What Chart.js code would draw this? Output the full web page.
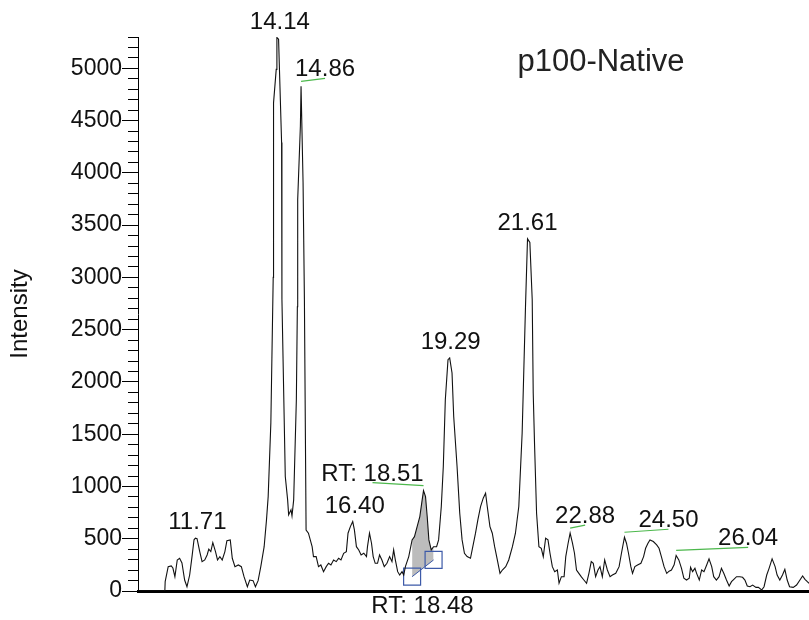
<!DOCTYPE html>
<html>
<head>
<meta charset="utf-8">
<script src="https://cdn.jsdelivr.net/npm/chart.js@4.4.0/dist/chart.umd.min.js"></script>
<style>
  html, body { margin: 0; padding: 0; background: #fff; }
  #wrap { width: 809px; height: 620px; }
</style>
</head>
<body>
<div id="wrap"><canvas id="chromChart" width="809" height="620"></canvas></div>
<script>
// retention time (min) and intensity of the trace
const rt = [
  10.00, 10.80, 10.81, 10.90, 10.99, 11.04, 11.10, 11.17, 11.24, 11.31, 11.39, 11.46,
  11.54, 11.61, 11.67, 11.71, 11.76, 11.84, 11.91, 11.99, 12.06, 12.11, 12.17, 12.23,
  12.31, 12.37, 12.44, 12.51, 12.59, 12.65, 12.75, 12.81, 12.89, 12.99, 13.08, 13.16,
  13.26, 13.33, 13.43, 13.50, 13.58, 13.66, 13.76, 13.83, 13.88, 13.96, 14.03, 14.04,
  14.12, 14.14, 14.19, 14.28, 14.29, 14.39, 14.46, 14.49, 14.56, 14.59, 14.64, 14.72,
  14.75, 14.76, 14.84, 14.86, 14.92, 14.96, 15.01, 15.08, 15.19, 15.23, 15.31, 15.38,
  15.45, 15.53, 15.61, 15.68, 15.75, 15.83, 15.91, 15.98, 16.05, 16.13, 16.21, 16.26,
  16.33, 16.40, 16.45, 16.51, 16.58, 16.65, 16.73, 16.81, 16.84, 16.90, 16.96, 17.01,
  17.07, 17.14, 17.20, 17.27, 17.34, 17.42, 17.50, 17.57, 17.62, 17.67, 17.74, 17.80,
  17.87, 17.92, 17.97, 18.07, 18.17, 18.24, 18.32, 18.40, 18.47, 18.51, 18.57, 18.62,
  18.67, 18.74, 18.81, 18.90, 18.96, 19.04, 19.10, 19.16, 19.24, 19.29, 19.36, 19.41,
  19.51, 19.59, 19.66, 19.73, 19.81, 19.91, 19.96, 20.06, 20.13, 20.21, 20.29, 20.36,
  20.41, 20.49, 20.56, 20.63, 20.71, 20.79, 20.86, 20.96, 21.05, 21.16, 21.25, 21.35,
  21.45, 21.55, 21.61, 21.68, 21.75, 21.78, 21.82, 21.88, 21.95, 22.02, 22.08, 22.15,
  22.22, 22.28, 22.35, 22.42, 22.50, 22.55, 22.62, 22.70, 22.75, 22.82, 22.88, 22.95,
  23.01, 23.07, 23.14, 23.21, 23.29, 23.37, 23.44, 23.51, 23.57, 23.64, 23.71, 23.77,
  23.84, 23.91, 23.99, 24.07, 24.14, 24.24, 24.34, 24.41, 24.50, 24.56, 24.62, 24.69,
  24.74, 24.81, 24.89, 24.99, 25.07, 25.13, 25.20, 25.26, 25.36, 25.46, 25.53, 25.60,
  25.68, 25.76, 25.83, 25.90, 25.98, 26.04, 26.12, 26.20, 26.27, 26.35, 26.43, 26.47,
  26.53, 26.60, 26.65, 26.73, 26.80, 26.87, 26.95, 27.02, 27.10, 27.16, 27.24, 27.32,
  27.39, 27.46, 27.54, 27.62, 27.69, 27.76, 27.84, 27.94, 28.02, 28.09, 28.16, 28.24,
  28.32, 28.42, 28.49, 28.59, 28.66, 28.74, 28.81, 28.90, 28.99, 29.05, 29.13, 29.21,
  29.28, 29.35, 29.42, 29.53, 29.63, 29.73, 29.81, 29.88, 29.95, 30.00
];
const intensity = [
  0, 0, 90, 233, 240, 220, 137, 297, 313, 268, 105, 41,
  153, 329, 490, 505, 500, 377, 281, 297, 345, 400, 377, 463,
  377, 297, 329, 297, 377, 482, 489, 313, 233, 249, 233, 137,
  41, 105, 99, 41, 99, 233, 424, 680, 903, 1610, 3000, 4670,
  4990, 5295, 5279, 4290, 2790, 1095, 872, 728, 776, 718, 872, 1830,
  2720, 3746, 4448, 4828, 3909, 2788, 584, 553, 424, 329, 329, 233,
  249, 185, 233, 265, 249, 297, 281, 313, 297, 361, 377, 553,
  616, 664, 584, 424, 393, 345, 361, 329, 424, 553, 457, 329,
  265, 265, 345, 297, 233, 265, 329, 281, 393, 297, 185, 153,
  185, 153, 233, 329, 489, 520, 616, 712, 872, 961, 903, 712,
  489, 393, 424, 424, 489, 808, 1191, 1830, 2213, 2229, 2086, 1670,
  1191, 744, 489, 361, 329, 313, 393, 553, 680, 808, 888, 936,
  808, 616, 553, 424, 297, 169, 201, 233, 297, 424, 553, 808,
  1511, 2723, 3369, 3334, 2788, 1894, 1400, 744, 424, 409, 329, 505,
  489, 361, 233, 185, 201, 74, 137, 137, 329, 457, 553, 457,
  361, 201, 169, 137, 105, 74, 169, 281, 265, 137, 201, 233,
  137, 297, 201, 137, 153, 169, 233, 361, 514, 457, 361, 233,
  169, 233, 249, 265, 329, 409, 457, 489, 473, 441, 409, 329,
  233, 169, 190, 201, 250, 340, 297, 217, 122, 105, 122, 227,
  185, 217, 169, 105, 201, 185, 249, 307, 233, 137, 105, 137,
  217, 169, 105, 48, 89, 112, 137, 137, 131, 105, 48, 41,
  57, 35, 35, 10, 41, 153, 217, 307, 233, 153, 105, 153,
  208, 105, 41, 35, 57, 105, 144, 112, 89, 74
];

// labelled peaks
const peakRT = [11.71, 14.14, 14.86, 16.40, 18.51, 19.29, 21.61, 22.88, 24.50, 26.04];
const peakText = ['11.71', '14.14', '14.86', '16.40', 'RT: 18.51', '19.29', '21.61', '22.88', '24.50', '26.04'];

// integrated area under the 18.51 peak and its baseline ends
const areaRT = [18.17, 18.81];
const areaBase = [137, 297];

// marker below the axis
const markerRT = 18.48;
const markerText = 'RT: 18.48';

const titleText = 'p100-Native';
const yMax = 5300;
const yMinorStep = 100;
const yLabelStep = 500;

if (rt.length !== intensity.length) console.error('rt/intensity length mismatch', rt.length, intensity.length);

const tracePoints = rt.map((t, i) => ({ x: t, y: intensity[i] }));
const areaPoints = tracePoints.filter(p => p.x >= areaRT[0] && p.x <= areaRT[1]);
const basePoints = areaRT.map((t, i) => ({ x: t, y: areaBase[i] }));

const FONT = '"Liberation Sans", Arial, Helvetica, sans-serif';
Chart.defaults.font.family = FONT;

// horizontal shift of each peak label from the apex (px)
const labelShift = [2, 3, 24, 2, -51, 1, 0, 15, 44, 72];

const annotations = {
  id: 'annotations',
  afterDatasetsDraw(chart) {
    const { ctx, chartArea, scales: { x, y } } = chart;
    ctx.save();

    // major ticks are longer than the minor ones
    ctx.strokeStyle = '#000';
    ctx.lineWidth = 1;
    for (let v = 0; v <= yMax; v += yLabelStep) {
      const py = Math.round(y.getPixelForValue(v) - 0.5) + 0.5;
      ctx.beginPath();
      ctx.moveTo(chartArea.left - 16, py);
      ctx.lineTo(chartArea.left - 9, py);
      ctx.stroke();
    }

    ctx.font = '24px ' + FONT;
    ctx.fillStyle = '#111';
    ctx.textAlign = 'center';
    ctx.textBaseline = 'alphabetic';
    peakRT.forEach((p, i) => {
      const idx = rt.indexOf(p);
      const ax = x.getPixelForValue(rt[idx]);
      const ay = y.getPixelForValue(intensity[idx]);
      const dx = labelShift[i];
      let base = ay - 9;
      if (Math.abs(dx) > 10) {
        ctx.strokeStyle = '#4cb84c';
        ctx.lineWidth = 1.2;
        ctx.beginPath();
        ctx.moveTo(ax, ay - 5);
        ctx.lineTo(ax + dx, ay - 8);
        ctx.stroke();
        base = ay - 10;
      }
      ctx.fillText(peakText[i], ax + dx, base);
    });

    ctx.fillText(markerText, x.getPixelForValue(markerRT), chartArea.bottom + 22);

    ctx.font = '31px ' + FONT;
    ctx.fillStyle = '#222';
    ctx.fillText(titleText, 601, 71);
    ctx.restore();
  }
};

const ctx = document.getElementById('chromChart').getContext('2d');
const chromChart = new Chart(ctx, {
  type: 'line',
  data: {
    datasets: [
      {
        label: 'trace',
        data: tracePoints,
        borderColor: '#111',
        borderWidth: 1.1,
        pointRadius: 0,
        tension: 0,
        fill: false,
        order: 0
      },
      {
        label: 'area',
        data: areaPoints,
        borderColor: 'rgba(0,0,0,0)',
        borderWidth: 0,
        pointRadius: 0,
        backgroundColor: '#bcbcbc',
        fill: 2,
        order: 2
      },
      {
        label: 'baseline',
        data: basePoints,
        borderColor: '#3d5aa8',
        borderWidth: 1,
        pointStyle: 'rect',
        pointRadius: 12,
        pointBorderColor: '#3d5aa8',
        pointBackgroundColor: 'rgba(0,0,0,0)',
        pointBorderWidth: 1.2,
        fill: false,
        order: 1
      }
    ]
  },
  options: {
    responsive: false,
    animation: false,
    layout: { autoPadding: false, padding: { top: 37, right: 0, bottom: 0, left: 0 } },
    plugins: {
      legend: { display: false },
      tooltip: { enabled: false }
    },
    scales: {
      x: {
        type: 'linear',
        min: 10,
        max: 30,
        grid: { display: false },
        ticks: { display: false },
        border: { color: '#000', width: 3 },
        afterFit: s => { s.height = 29; }
      },
      y: {
        min: 0,
        max: yMax,
        ticks: {
          stepSize: yMinorStep,
          autoSkip: false,
          padding: 6,
          color: '#111',
          font: { size: 23 },
          callback: v => (v % yLabelStep === 0 ? String(v) : '')
        },
        grid: { drawOnChartArea: false, tickLength: 10, tickColor: '#000', color: '#000' },
        border: { color: '#000', width: 1 },
        title: {
          display: true,
          text: 'Intensity',
          color: '#111',
          font: { size: 24 },
          padding: { top: 6, bottom: 0 }
        },
        afterFit: s => { s.width = 138; }
      }
    }
  },
  plugins: [annotations]
});
</script>
</body>
</html>
